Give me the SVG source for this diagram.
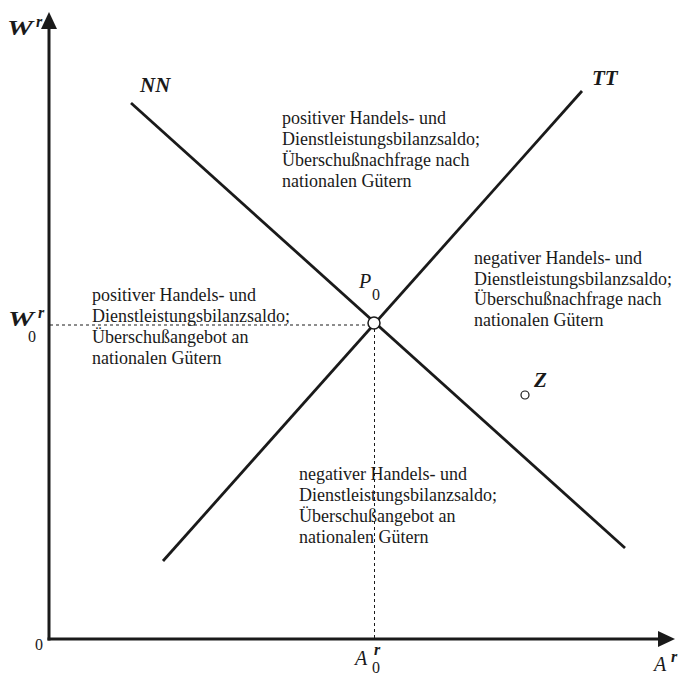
<svg xmlns="http://www.w3.org/2000/svg" width="686" height="676" viewBox="0 0 686 676">
<style>
.ax{stroke:#1a1a1a;stroke-width:3;fill:none}
.cv{stroke:#1a1a1a;stroke-width:2.8;fill:none}
.dot{stroke:#1a1a1a;stroke-width:1;stroke-dasharray:3,3;fill:none}
.txt{font-family:"Liberation Serif","Times New Roman",serif;font-size:18px;fill:#1a1a1a}
.var{font-family:"Liberation Serif","Times New Roman",serif;font-size:21px;font-style:italic;font-weight:bold;fill:#1a1a1a}
.vi{font-family:"Liberation Serif","Times New Roman",serif;font-size:20px;font-style:italic;fill:#1a1a1a}
.sup{font-family:"Liberation Serif","Times New Roman",serif;font-size:16px;font-style:italic;font-weight:bold;fill:#1a1a1a}
.sub{font-family:"Liberation Serif","Times New Roman",serif;font-size:16px;fill:#1a1a1a}
</style>
<defs>
<marker id="arr" markerUnits="userSpaceOnUse" viewBox="0 0 17 16" refX="4" refY="8" markerWidth="17" markerHeight="16" orient="auto">
<path d="M0,0 L17,8 L0,16 z" fill="#1a1a1a"/>
</marker>
</defs>
<g id="connectors">
<line class="ax" x1="49" y1="640.5" x2="49" y2="25" marker-end="url(#arr)"/>
<line class="ax" x1="47.5" y1="639" x2="662" y2="639" marker-end="url(#arr)"/>
<line id="NN" class="cv" x1="131" y1="103" x2="625" y2="548"/>
<line id="TT" class="cv" x1="163" y1="561" x2="582" y2="91"/>
<line class="dot" x1="50" y1="325" x2="368" y2="325"/>
<line class="dot" x1="374.5" y1="329" x2="374.5" y2="638"/>
</g>
<g id="P0">
<circle cx="374" cy="323" r="6" fill="#fff" stroke="#1a1a1a" stroke-width="1.5"/>
<text class="vi" x="359" y="288">P</text><text class="sub" x="372" y="300">0</text>
</g>
<g id="Z">
<circle cx="525" cy="395" r="4" fill="#fff" stroke="#1a1a1a" stroke-width="1.2"/>
<text class="var" x="534" y="387">Z</text>
</g>
<g id="labels">
<text class="var" x="7" y="35" textLength="26" lengthAdjust="spacingAndGlyphs">W</text><text class="sup" x="36" y="27">r</text>
<text class="var" x="8" y="326" textLength="26" lengthAdjust="spacingAndGlyphs">W</text><text class="sup" x="38" y="318">r</text><text class="sub" x="28" y="342">0</text>
<text class="var" x="140" y="92">NN</text>
<text class="var" x="592" y="85">TT</text>
<text class="sub" x="35" y="650">0</text>
<text class="vi" x="355" y="665">A</text><text class="sup" x="374" y="655">r</text><text class="sub" x="372" y="673" font-size="14">0</text>
<text class="vi" x="654" y="671">A</text><text class="sup" x="671" y="662">r</text>
</g>
<g id="top-region">
<text class="txt" x="282" y="124">positiver Handels- und</text>
<text class="txt" x="282" y="145">Dienstleistungsbilanzsaldo;</text>
<text class="txt" x="282" y="166">Überschußnachfrage nach</text>
<text class="txt" x="282" y="187">nationalen Gütern</text>
</g>
<g id="left-region">
<text class="txt" x="92" y="301">positiver Handels- und</text>
<text class="txt" x="92" y="322">Dienstleistungsbilanzsaldo;</text>
<text class="txt" x="92" y="343">Überschußangebot an</text>
<text class="txt" x="92" y="364">nationalen Gütern</text>
</g>
<g id="right-region">
<text class="txt" x="474" y="264">negativer Handels- und</text>
<text class="txt" x="474" y="285">Dienstleistungsbilanzsaldo;</text>
<text class="txt" x="474" y="305">Überschußnachfrage nach</text>
<text class="txt" x="474" y="326">nationalen Gütern</text>
</g>
<g id="bottom-region">
<text class="txt" x="299" y="480">negativer Handels- und</text>
<text class="txt" x="299" y="501">Dienstleistungsbilanzsaldo;</text>
<text class="txt" x="299" y="522">Überschußangebot an</text>
<text class="txt" x="299" y="543">nationalen Gütern</text>
</g>
</svg>
